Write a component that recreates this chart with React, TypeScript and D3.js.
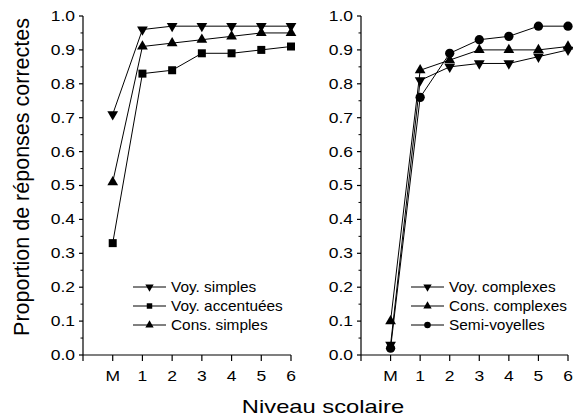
import React, { useEffect } from "react";
import * as d3 from "d3";

const levels = ["M", "1", "2", "3", "4", "5", "6"];
const yTicks = [0, 0.1, 0.2, 0.3, 0.4, 0.5, 0.6, 0.7, 0.8, 0.9, 1.0];

// left panel
const voySimples = [0.71, 0.96, 0.97, 0.97, 0.97, 0.97, 0.97];
const voyAccentuees = [0.33, 0.83, 0.84, 0.89, 0.89, 0.9, 0.91];
const consSimples = [0.51, 0.91, 0.92, 0.93, 0.94, 0.95, 0.95];

// right panel
const voyComplexes = [0.03, 0.81, 0.85, 0.86, 0.86, 0.88, 0.9];
const consComplexes = [0.1, 0.84, 0.87, 0.9, 0.9, 0.9, 0.91];
const semiVoyelles = [0.02, 0.76, 0.89, 0.93, 0.94, 0.97, 0.97];

type Marker = "down" | "up" | "square" | "circle";
type Series = { name: string; values: number[]; marker: Marker };

const leftSeries: Series[] = [
  { name: "Voy. simples", values: voySimples, marker: "down" },
  { name: "Voy. accentuées", values: voyAccentuees, marker: "square" },
  { name: "Cons. simples", values: consSimples, marker: "up" },
];
const rightSeries: Series[] = [
  { name: "Voy. complexes", values: voyComplexes, marker: "down" },
  { name: "Cons. complexes", values: consComplexes, marker: "up" },
  { name: "Semi-voyelles", values: semiVoyelles, marker: "circle" },
];

const W = 573;
const H = 419;
const FONT = "'Liberation Sans', Arial, sans-serif";
// the reference text is a bit wider than plain Arial
const SX = 1.25;

const y = d3.scaleLinear().domain([0, 1]).range([355, 16]);

const markerSize: Record<Marker, number> = { down: 50, up: 50, square: 64, circle: 68 };
const legendSize: Record<Marker, number> = { down: 30, up: 30, square: 30, circle: 34 };

function markerPath(m: Marker, size: number) {
  const sym =
    m === "square"
      ? d3.symbolSquare
      : m === "circle"
      ? d3.symbolCircle
      : d3.symbolTriangle;
  return d3.symbol(sym, size)() || "";
}

const Panel: React.FC<{ x0: number; x1: number; series: Series[]; legendX: number }> = ({
  x0,
  x1,
  series,
  legendX,
}) => {
  const x = d3.scaleLinear().domain([-1, 6]).range([x0, x1]);
  const line = d3
    .line<number>()
    .x((_, i) => x(i))
    .y((d) => y(d));
  const minor = d3.range(0.05, 1, 0.1);
  const legendY = [287, 306, 325];
  return (
    <g>
      {/* y axis */}
      <line x1={x0} x2={x0} y1={y(1)} y2={y(0)} stroke="#000" strokeWidth={1.2} />
      {yTicks.map((t) => (
        <g key={t}>
          <line x1={x0 - 4} x2={x0} y1={y(t)} y2={y(t)} stroke="#000" strokeWidth={1.2} />
          <text
            transform={`translate(${x0 - 8},${y(t)}) scale(${SX},1)`}
            dy="0.35em"
            textAnchor="end"
            fontSize={14}
            fontFamily={FONT}
          >
            {t.toFixed(1)}
          </text>
        </g>
      ))}
      {minor.map((t) => (
        <line key={t} x1={x0 - 2.5} x2={x0} y1={y(t)} y2={y(t)} stroke="#000" strokeWidth={1} />
      ))}
      {/* x axis */}
      <line x1={x0} x2={x1} y1={y(0)} y2={y(0)} stroke="#000" strokeWidth={1.2} />
      {d3.range(-1, 7).map((i) => (
        <line key={i} x1={x(i)} x2={x(i)} y1={y(0)} y2={y(0) + 6} stroke="#000" strokeWidth={1.2} />
      ))}
      {levels.map((l, i) => (
        <text
          key={l}
          transform={`translate(${x(i)},381) scale(${SX},1)`}
          textAnchor="middle"
          fontSize={14}
          fontFamily={FONT}
        >
          {l}
        </text>
      ))}
      {/* series */}
      {series.map((s) => (
        <g key={s.name}>
          <path d={line(s.values) || ""} fill="none" stroke="#000" strokeWidth={1} />
          {s.values.map((v, i) => (
            <path
              key={i}
              d={markerPath(s.marker, markerSize[s.marker])}
              transform={`translate(${x(i)},${y(v)})${s.marker === "down" ? " rotate(180)" : ""}`}
              fill="#000"
            />
          ))}
        </g>
      ))}
      {/* legend */}
      {series.map((s, k) => (
        <g key={s.name} transform={`translate(${legendX},${legendY[k]})`}>
          <line x1={0} x2={33} y1={0} y2={0} stroke="#000" strokeWidth={1} />
          <path
            d={markerPath(s.marker, legendSize[s.marker])}
            transform={`translate(16.5,0)${s.marker === "down" ? " rotate(180)" : ""}`}
            fill="#000"
          />
          <text
            transform="translate(38,0) scale(1.1,1)"
            dy="0.35em"
            fontSize={14}
            fontFamily={FONT}
          >
            {s.name}
          </text>
        </g>
      ))}
    </g>
  );
};

export default function App() {
  useEffect(() => {
    document.body.style.margin = "0";
  }, []);
  return (
    <svg width={W} height={H} style={{ display: "block", background: "#fff" }}>
      <rect width={W} height={H} fill="#fff" />
      <Panel x0={83} x1={291} series={leftSeries} legendX={133} />
      <Panel x0={361} x1={568} series={rightSeries} legendX={411} />
      <text
        transform="translate(29,177) rotate(-90)"
        textAnchor="middle"
        fontSize={21.5}
        fontFamily={FONT}
      >
        Proportion de réponses correctes
      </text>
      <text
        transform={`translate(323,413) scale(${SX},1)`}
        textAnchor="middle"
        fontSize={19}
        fontFamily={FONT}
      >
        Niveau scolaire
      </text>
    </svg>
  );
}
